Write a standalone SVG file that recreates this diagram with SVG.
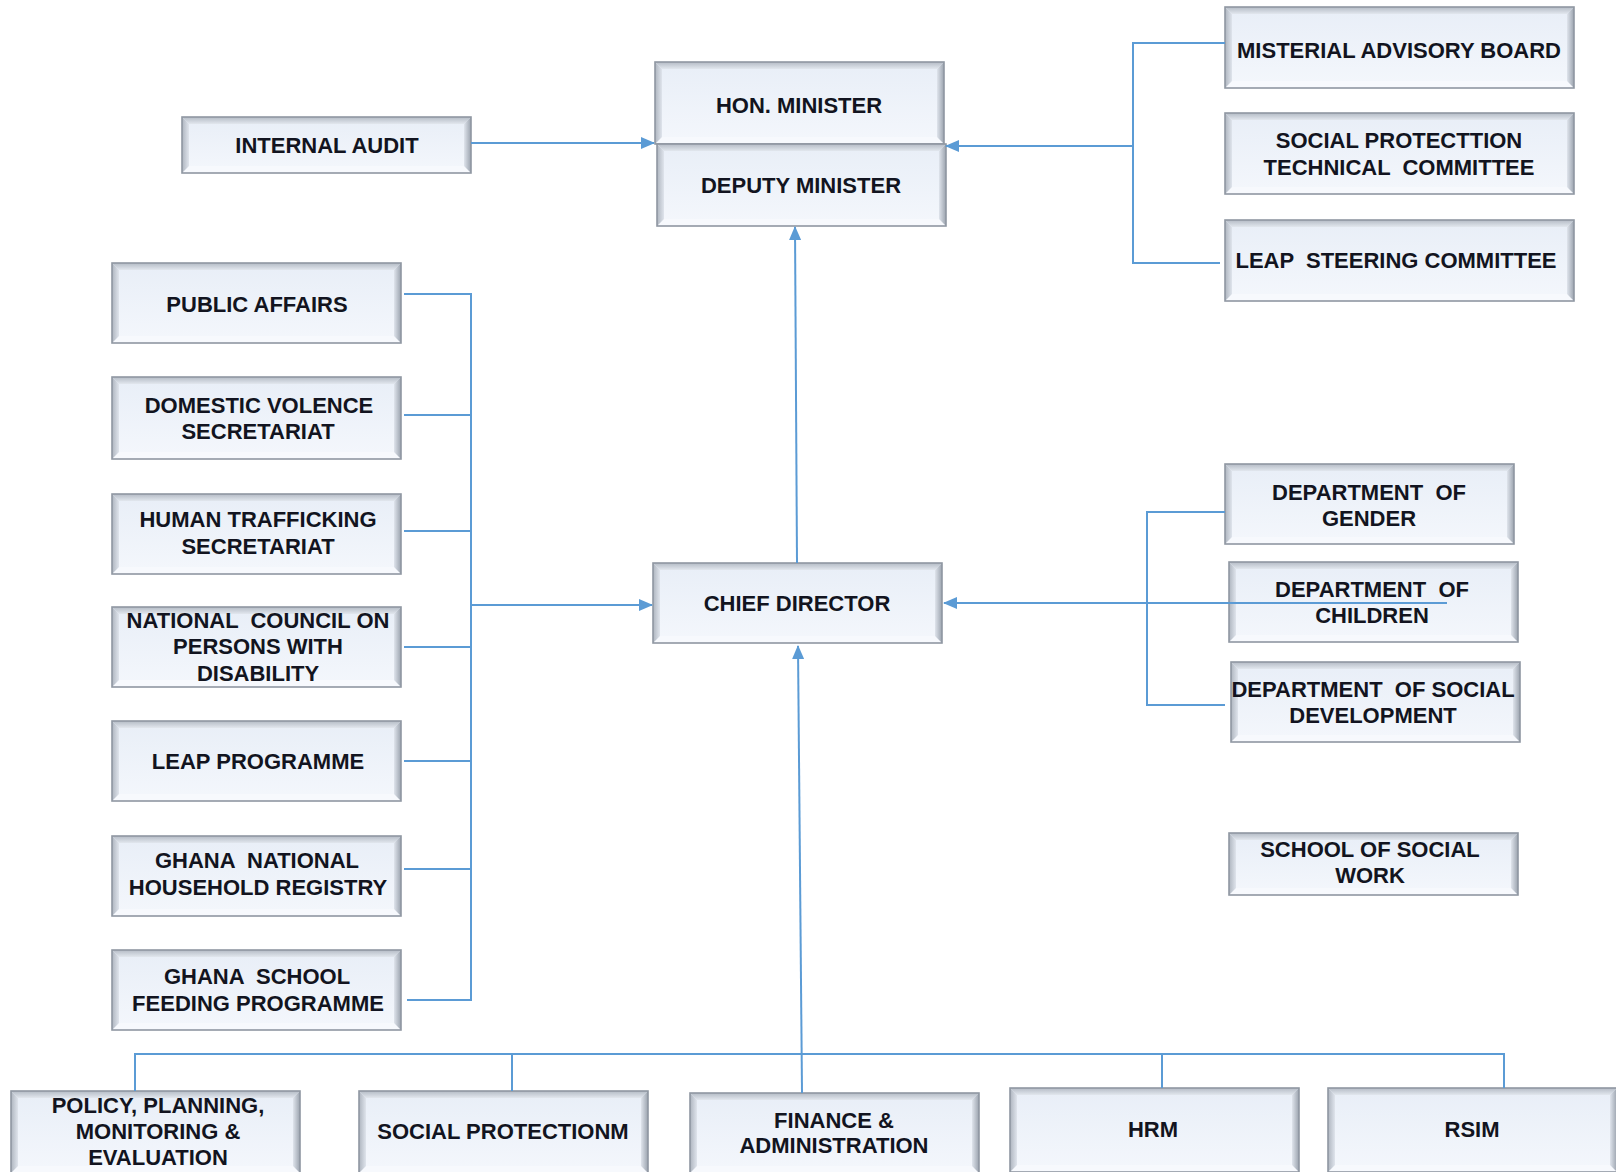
<svg xmlns="http://www.w3.org/2000/svg" xmlns:xlink="http://www.w3.org/1999/xlink" width="1616" height="1172" viewBox="0 0 1616 1172">
<style>
.face{fill:url(#gFace)}
.bt{fill:url(#gTop)}
.bb{fill:#f7f9fd}
.bl{fill:url(#gLeft)}
.br{fill:url(#gRight)}
.edge{fill:none;stroke:#8f97a2;stroke-width:1.6}
.t{font-family:"Liberation Sans",Arial,sans-serif;font-weight:bold;font-size:22px;fill:#121420;text-anchor:middle;white-space:pre}
.c{fill:none;stroke:#5b9bd5;stroke-width:2}
.a{marker-end:url(#arr)}
</style>
<defs>
<linearGradient id="gFace" x1="0" y1="0" x2="0" y2="1"><stop offset="0" stop-color="#e8eef7"/><stop offset="1" stop-color="#f4f7fc"/></linearGradient>
<linearGradient id="gTop" x1="0" y1="0" x2="0" y2="1"><stop offset="0" stop-color="#b4bbc5"/><stop offset="1" stop-color="#e2e7ee"/></linearGradient>
<linearGradient id="gLeft" x1="0" y1="0" x2="1" y2="0"><stop offset="0" stop-color="#aeb5bf"/><stop offset="1" stop-color="#dfe4ec"/></linearGradient>
<linearGradient id="gRight" x1="0" y1="0" x2="1" y2="0"><stop offset="0" stop-color="#dfe4ec"/><stop offset="1" stop-color="#9ba3ae"/></linearGradient>
<marker id="arr" viewBox="0 0 14 12" markerWidth="14" markerHeight="12" refX="13" refY="6" orient="auto" markerUnits="userSpaceOnUse"><path d="M0,0 L14,6 L0,12 z" fill="#5b9bd5"/></marker>
<g id="bA"><rect class="face" width="289" height="82"/><polygon class="bt" points="0,0 289,0 282,7 7,7"/><polygon class="bb" points="0,82 289,82 282,75 7,75"/><polygon class="bl" points="0,0 7,7 7,75 0,82"/><polygon class="br" points="289,0 282,7 282,75 289,82"/><rect class="edge" width="289" height="82"/></g>
<g id="bB"><rect class="face" width="289" height="80"/><polygon class="bt" points="0,0 289,0 282,7 7,7"/><polygon class="bb" points="0,80 289,80 282,73 7,73"/><polygon class="bl" points="0,0 7,7 7,73 0,80"/><polygon class="br" points="289,0 282,7 282,73 289,80"/><rect class="edge" width="289" height="80"/></g>
<g id="bC"><rect class="face" width="289" height="56"/><polygon class="bt" points="0,0 289,0 282,7 7,7"/><polygon class="bb" points="0,56 289,56 282,49 7,49"/><polygon class="bl" points="0,0 7,7 7,49 0,56"/><polygon class="br" points="289,0 282,7 282,49 289,56"/><rect class="edge" width="289" height="56"/></g>
<g id="bD"><rect class="face" width="349" height="81"/><polygon class="bt" points="0,0 349,0 342,7 7,7"/><polygon class="bb" points="0,81 349,81 342,74 7,74"/><polygon class="bl" points="0,0 7,7 7,74 0,81"/><polygon class="br" points="349,0 342,7 342,74 349,81"/><rect class="edge" width="349" height="81"/></g>
<g id="bE"><rect class="face" width="289" height="62"/><polygon class="bt" points="0,0 289,0 282,7 7,7"/><polygon class="bb" points="0,62 289,62 282,55 7,55"/><polygon class="bl" points="0,0 7,7 7,55 0,62"/><polygon class="br" points="289,0 282,7 282,55 289,62"/><rect class="edge" width="289" height="62"/></g>
<g id="bF"><rect class="face" width="289" height="84"/><polygon class="bt" points="0,0 289,0 282,7 7,7"/><polygon class="bb" points="0,84 289,84 282,77 7,77"/><polygon class="bl" points="0,0 7,7 7,77 0,84"/><polygon class="br" points="289,0 282,7 282,77 289,84"/><rect class="edge" width="289" height="84"/></g>
</defs>
<rect width="1616" height="1172" fill="#ffffff"/>

<g id="nodes">
<g id="hon-minister"><use href="#bA" x="655" y="62"/><text class="t" x="799" y="113">HON. MINISTER</text></g>
<g id="deputy-minister"><use href="#bA" x="657" y="144"/><text class="t" x="801" y="193">DEPUTY MINISTER</text></g>
<g id="internal-audit"><use href="#bC" x="182" y="117"/><text class="t" x="327" y="153">INTERNAL AUDIT</text></g>
<g id="advisory-board"><use href="#bD" x="1225" y="7"/><text class="t" x="1399" y="58">MISTERIAL ADVISORY BOARD</text></g>
<g id="sp-technical"><use href="#bD" x="1225" y="113"/><text class="t" x="1399" y="148">SOCIAL PROTECTTION</text><text class="t" x="1399" y="175">TECHNICAL  COMMITTEE</text></g>
<g id="leap-steering"><use href="#bD" x="1225" y="220"/><text class="t" x="1396" y="268">LEAP  STEERING COMMITTEE</text></g>
<g id="public-affairs"><use href="#bB" x="112" y="263"/><text class="t" x="257" y="312">PUBLIC AFFAIRS</text></g>
<g id="domestic-violence"><use href="#bA" x="112" y="377"/><text class="t" x="259" y="413">DOMESTIC VOLENCE</text><text class="t" x="258" y="439">SECRETARIAT</text></g>
<g id="human-trafficking"><use href="#bB" x="112" y="494"/><text class="t" x="258" y="527">HUMAN TRAFFICKING</text><text class="t" x="258" y="554">SECRETARIAT</text></g>
<g id="ncpd"><use href="#bB" x="112" y="607"/><text class="t" x="258" y="628">NATIONAL  COUNCIL ON</text><text class="t" x="258" y="654">PERSONS WITH</text><text class="t" x="258" y="681">DISABILITY</text></g>
<g id="leap-programme"><use href="#bB" x="112" y="721"/><text class="t" x="258" y="769">LEAP PROGRAMME</text></g>
<g id="gnhr"><use href="#bB" x="112" y="836"/><text class="t" x="257" y="868">GHANA  NATIONAL</text><text class="t" x="258" y="895">HOUSEHOLD REGISTRY</text></g>
<g id="gsfp"><use href="#bB" x="112" y="950"/><text class="t" x="257" y="984">GHANA  SCHOOL</text><text class="t" x="258" y="1011">FEEDING PROGRAMME</text></g>
<g id="chief-director"><use href="#bB" x="653" y="563"/><text class="t" x="797" y="611">CHIEF DIRECTOR</text></g>
<g id="dept-gender"><use href="#bB" x="1225" y="464"/><text class="t" x="1369" y="500">DEPARTMENT  OF</text><text class="t" x="1369" y="526">GENDER</text></g>
<g id="dept-children"><use href="#bB" x="1229" y="562"/><text class="t" x="1372" y="597">DEPARTMENT  OF</text><text class="t" x="1372" y="623">CHILDREN</text></g>
<g id="dept-social-dev"><use href="#bB" x="1231" y="662"/><text class="t" x="1373" y="697">DEPARTMENT  OF SOCIAL</text><text class="t" x="1373" y="723">DEVELOPMENT</text></g>
<g id="school-social-work"><use href="#bE" x="1229" y="833"/><text class="t" x="1370" y="857">SCHOOL OF SOCIAL</text><text class="t" x="1370" y="883">WORK</text></g>
<g id="ppme"><use href="#bA" x="11" y="1091"/><text class="t" x="158" y="1113">POLICY, PLANNING,</text><text class="t" x="158" y="1139">MONITORING &amp;</text><text class="t" x="158" y="1165">EVALUATION</text></g>
<g id="social-protection"><use href="#bA" x="359" y="1091"/><text class="t" x="503" y="1139">SOCIAL PROTECTIONM</text></g>
<g id="finance-admin"><use href="#bB" x="690" y="1093"/><text class="t" x="834" y="1128">FINANCE &amp;</text><text class="t" x="834" y="1153">ADMINISTRATION</text></g>
<g id="hrm"><use href="#bF" x="1010" y="1088"/><text class="t" x="1153" y="1137">HRM</text></g>
<g id="rsim"><use href="#bF" x="1328" y="1088"/><text class="t" x="1472" y="1137">RSIM</text></g>
</g>

<g id="connectors">
<line class="c a" x1="471" y1="143" x2="654" y2="143"/>
<polyline class="c" points="1225,43 1133,43 1133,263 1220,263"/>
<line class="c a" x1="1133" y1="146" x2="946" y2="146"/>
<line class="c a" x1="797" y1="563" x2="795" y2="227"/>
<polyline class="c" points="404,294 471,294 471,1000 407,1000"/>
<line class="c" x1="404" y1="415" x2="471" y2="415"/>
<line class="c" x1="404" y1="531" x2="471" y2="531"/>
<line class="c" x1="404" y1="647" x2="471" y2="647"/>
<line class="c" x1="404" y1="761" x2="471" y2="761"/>
<line class="c" x1="404" y1="869" x2="471" y2="869"/>
<line class="c a" x1="471" y1="605" x2="652" y2="605"/>
<polyline class="c" points="1225,512 1147,512 1147,705 1225,705"/>
<line class="c a" x1="1447" y1="603" x2="944" y2="603"/>
<polyline class="c" points="135,1091 135,1054 1504,1054 1504,1088"/>
<line class="c" x1="512" y1="1054" x2="512" y2="1091"/>
<line class="c" x1="1162" y1="1054" x2="1162" y2="1088"/>
<line class="c a" x1="802" y1="1093" x2="798" y2="646"/>
</g>
</svg>
